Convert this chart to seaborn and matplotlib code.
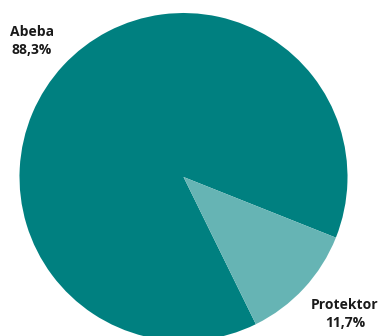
import matplotlib
matplotlib.use("Agg")
import matplotlib.pyplot as plt
import seaborn as sns

labels = ["Abeba", "Protektor"]
values = [88.3, 11.7]
value_labels = ["88,3%", "11,7%"]
colors = ["#008080", "#66B4B4"]

sns.set_theme(style="white")
plt.rcParams['font.family'] = ['Open Sans', 'DejaVu Sans']

fig = plt.figure(figsize=(3.79, 3.36), dpi=100)
ax = fig.add_axes([0, 0, 1, 1])
ax.pie(values, colors=colors, startangle=-21.7, counterclock=True,
       center=(183.5, 159), radius=164, frame=False,
       wedgeprops=dict(linewidth=0))
ax.set_xlim(0, 379)
ax.set_ylim(0, 336)
ax.set_aspect('equal')
ax.axis('off')

ax.text(32, 295, f"{labels[0]}\n{value_labels[0]}", ha='center', va='center',
        fontsize=10, fontweight='bold', color='#1a1a1a', linespacing=1.35)
ax.text(345, 22, f"{labels[1]}\n{value_labels[1]}", ha='center', va='center',
        fontsize=10, fontweight='bold', color='#1a1a1a', linespacing=1.35)

fig.savefig("out.png", dpi=100)
